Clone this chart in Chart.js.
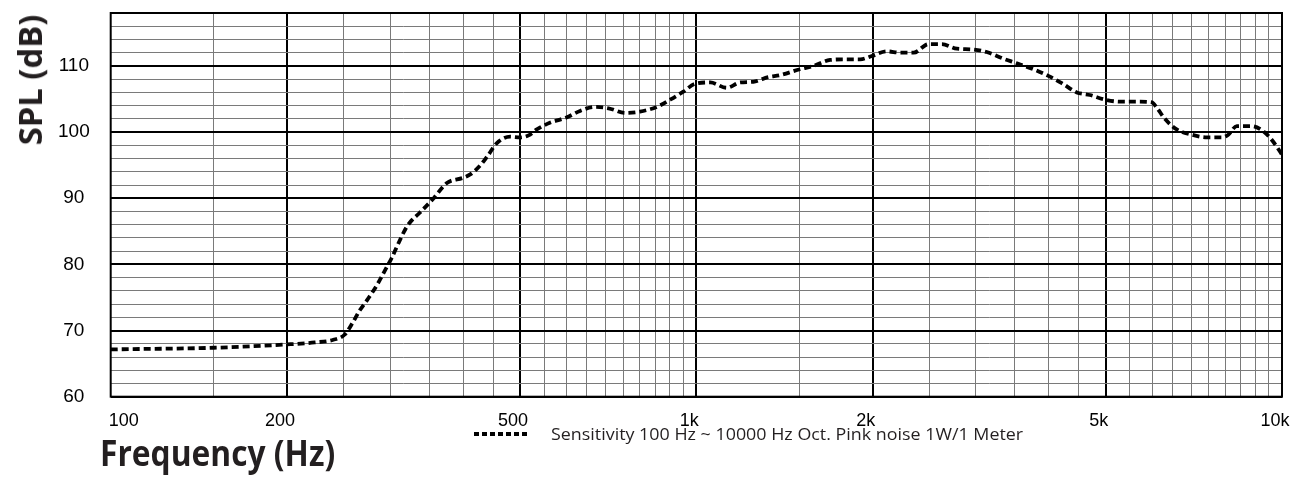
<!DOCTYPE html>
<html>
<head>
<meta charset="utf-8">
<script src="https://cdn.jsdelivr.net/npm/chart.js@4"></script>
<style>
  html, body { margin: 0; padding: 0; background: #fff; }
  .wrap { position: relative; width: 1299px; height: 487px; overflow: hidden; }
  canvas { position: absolute; left: 0; top: 0; }
  .lbl { position: absolute; white-space: nowrap; color: #231f20; font-family: "Open Sans", sans-serif; line-height: 1; transform-origin: 0 50%; }
  .ytitle { left: 30px; top: 80px; font-weight: 700; font-size: 32px; transform-origin: 50% 50%; }
  .xtitle { left: 100px; top: 435px; font-weight: 700; font-size: 35px; }
  .legend-line { position: absolute; left: 474px; top: 432px; width: 53px; height: 4px;
    background: repeating-linear-gradient(to right, #000 0 5px, transparent 5px 8px); }
  .legend-text { left: 551px; top: 425px; font-size: 17px; }
</style>
</head>
<body>
<div class="wrap">
  <canvas id="chart" width="1299" height="487"></canvas>
  <div class="lbl ytitle" id="ytitle">SPL (dB)</div>
  <div class="lbl xtitle" id="xtitle">Frequency (Hz)</div>
  <div class="legend-line"></div>
  <div class="lbl legend-text" id="legtext">Sensitivity 100 Hz ~ 10000 Hz Oct. Pink noise 1W/1 Meter</div>
</div>
<script>
const freqs = [100, 150, 200, 223, 240, 251, 259, 266, 274, 285, 294, 302, 310, 318, 324, 337, 356, 375,
  400, 411, 427, 441, 456, 481, 500, 517, 534, 562, 600, 633, 671, 708, 756, 801, 856, 902, 950, 995,
  1056, 1127, 1188, 1251, 1326, 1390, 1503, 1585, 1692, 1806, 1905, 1994, 2115, 2228, 2349, 2491, 2625,
  2785, 2954, 3132, 3344, 3525, 3761, 3990, 4207, 4463, 4700, 4988, 5288, 5649, 5995, 6110, 6310, 6610,
  7012, 7440, 7890, 8096, 8370, 8880, 9296, 9610, 10000];
const spl = [67.15, 67.4, 67.9, 68.2, 68.6, 69.4, 71.2, 73.0, 74.6, 76.9, 79.1, 81.0, 83.2, 85.2, 86.3, 87.8, 90.0, 92.3,
  93.1, 93.6, 94.9, 96.5, 98.3, 99.3, 99.2, 99.5, 100.4, 101.4, 102.2, 103.2, 103.8, 103.6, 102.9, 103.1, 103.8, 104.9, 106.1, 107.3,
  107.5, 106.7, 107.5, 107.6, 108.3, 108.6, 109.5, 110.0, 110.9, 111.0, 111.0, 111.5, 112.2, 112.0, 112.0, 113.3, 113.3,
  112.6, 112.5, 112.1, 111.1, 110.4, 109.5, 108.5, 107.4, 106.0, 105.6, 104.9, 104.6, 104.6, 104.5, 103.7, 102.0, 100.4,
  99.6, 99.2, 99.2, 99.6, 100.9, 100.9, 100.1, 98.8, 96.6];

// grid lines on the frequency axis
const freqGrid = [100, 150, 200, 250, 300, 350, 400, 450, 500, 550, 600, 650, 700, 750, 800, 850, 900, 950,
  1000, 1500, 2000, 2500, 3000, 3500, 4000, 4500, 5000, 5500, 6000, 6500, 7000, 7500, 8000, 8500, 9000, 9500, 10000];
const freqMajor = [200, 500, 1000, 2000, 5000];
const freqLabelValues = [100, 200, 500, 1000, 2000, 5000, 10000];
const freqLabels = ['100', '200', '500', '1k', '2k', '5k', '10k'];
const splMin = 60, splMax = 118, splStep = 2;
const splLabelValues = [60, 70, 80, 90, 100, 110];

const frame = {
  id: 'frame',
  beforeDatasetsDraw(chart) {
    const a = chart.chartArea, ctx = chart.ctx;
    ctx.save();
    ctx.strokeStyle = '#000';
    ctx.lineWidth = 2;
    ctx.strokeRect(a.left, a.top, a.right - a.left, a.bottom - a.top);
    ctx.restore();
  }
};

new Chart(document.getElementById('chart'), {
  type: 'line',
  data: {
    datasets: [{
      label: 'Sensitivity 100 Hz ~ 10000 Hz Oct. Pink noise 1W/1 Meter',
      data: freqs.map((f, i) => ({ x: f, y: spl[i] })),
      borderColor: '#000',
      borderWidth: 3.8,
      borderDash: [7, 4],
      borderCapStyle: 'butt',
      pointRadius: 0,
      cubicInterpolationMode: 'monotone',
      fill: false
    }]
  },
  options: {
    responsive: false,
    animation: false,
    layout: { autoPadding: false, padding: { left: 0, top: 13, right: 17, bottom: 0 } },
    plugins: { legend: { display: false }, tooltip: { enabled: false } },
    scales: {
      x: {
        type: 'logarithmic',
        min: 100,
        max: 10000,
        afterBuildTicks: (scale) => { scale.ticks = freqGrid.map(v => ({ value: v })); },
        afterFit: (scale) => {
          scale.height = 90.3;
          scale.paddingLeft = 0;
          scale.paddingRight = 0;
        },
        border: { display: false },
        grid: {
          drawTicks: false,
          color: (c) => freqMajor.includes(c.tick.value) ? '#000' : '#7a7a7a',
          lineWidth: (c) => freqMajor.includes(c.tick.value) ? 2 : 1
        },
        ticks: {
          autoSkip: false,
          maxRotation: 0,
          padding: 14,
          labelOffset: -7,
          color: '#000',
          font: { family: 'Liberation Sans, Arial, sans-serif', size: 18 },
          callback: (v) => {
            const i = freqLabelValues.indexOf(v);
            if (i < 0) return '';
            return i === 0 ? '\u2007\u2007\u2007\u2007' + freqLabels[i] : freqLabels[i];
          }
        }
      },
      y: {
        min: splMin,
        max: splMax,
        afterFit: (scale) => {
          scale.width = 110.7;
          scale.paddingTop = 0;
          scale.paddingBottom = 0;
        },
        border: { display: false },
        grid: {
          drawTicks: false,
          color: (c) => c.tick.value % 10 === 0 ? '#000' : '#7a7a7a',
          lineWidth: (c) => c.tick.value % 10 === 0 ? 2 : 1
        },
        ticks: {
          stepSize: splStep,
          autoSkip: false,
          crossAlign: 'center',
          padding: 21,
          color: '#000',
          font: { family: 'Liberation Sans, Arial, sans-serif', size: 19 },
          callback: (v) => splLabelValues.includes(v) ? String(v) : ''
        }
      }
    }
  },
  plugins: [frame]
});

function fit(id, target, rotate) {
  const el = document.getElementById(id);
  const k = target / el.offsetWidth;
  el.style.transform = rotate
    ? 'translate(-50%, -50%) rotate(-90deg) scaleX(' + k + ')'
    : 'scaleX(' + k + ')';
}
fit('ytitle', 131, true);
fit('xtitle', 235, false);
fit('legtext', 472, false);
</script>
</body>
</html>
